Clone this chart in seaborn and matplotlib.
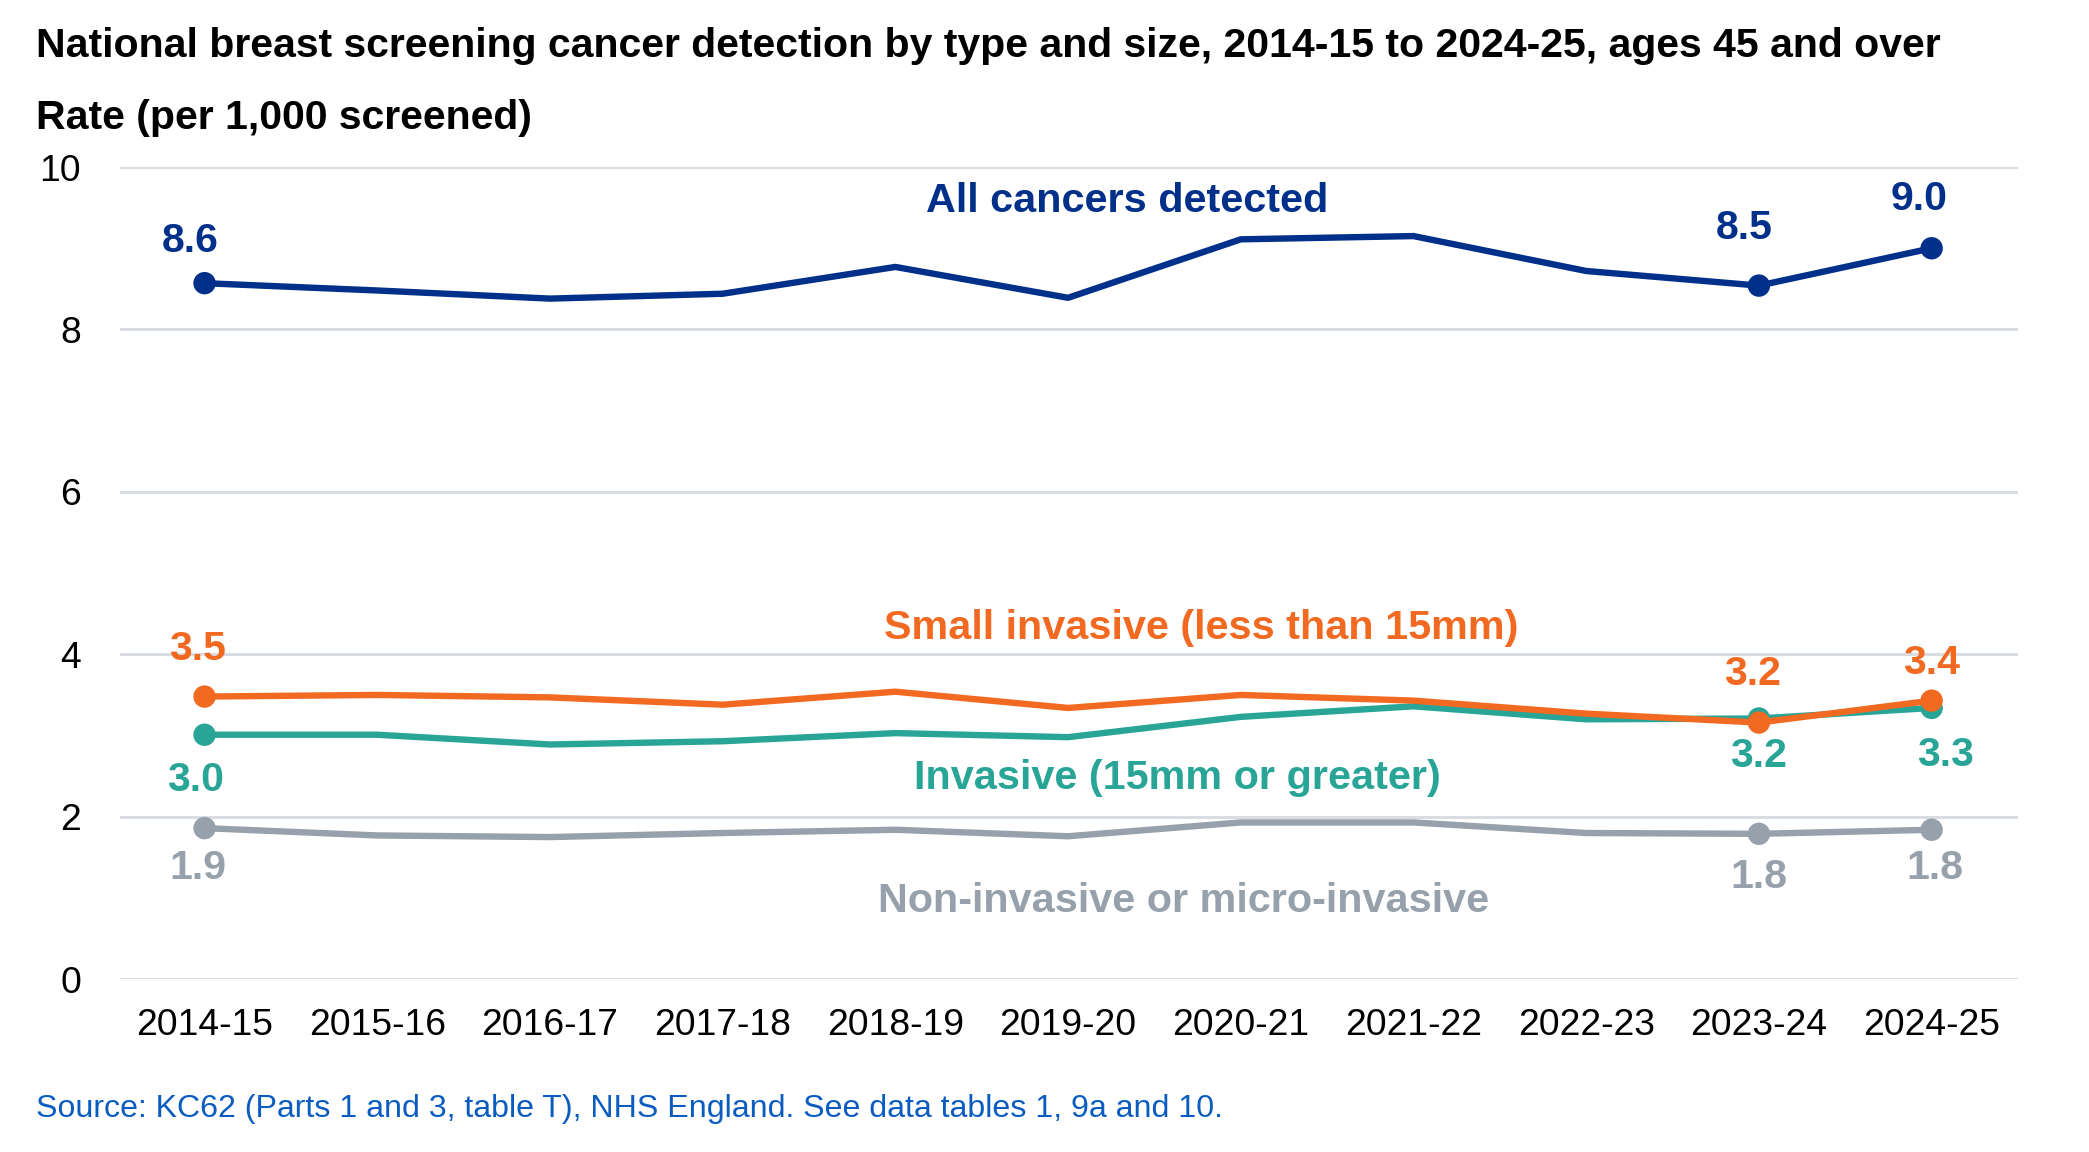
import matplotlib
matplotlib.use("Agg")
import matplotlib.pyplot as plt
import seaborn as sns
import pandas as pd
import numpy as np

years = ["2014-15", "2015-16", "2016-17", "2017-18", "2018-19", "2019-20",
         "2020-21", "2021-22", "2022-23", "2023-24", "2024-25"]
all_cancers = [8.57, 8.48, 8.38, 8.44, 8.77, 8.39, 9.11, 9.15, 8.72, 8.54, 9.00]
small_invasive = [3.48, 3.50, 3.47, 3.38, 3.54, 3.34, 3.50, 3.43, 3.27, 3.16, 3.43]
invasive = [3.01, 3.01, 2.89, 2.93, 3.03, 2.98, 3.23, 3.36, 3.20, 3.21, 3.34]
non_invasive = [1.86, 1.77, 1.75, 1.80, 1.84, 1.76, 1.93, 1.93, 1.80, 1.79, 1.84]

series_names = ["All cancers detected", "Small invasive (less than 15mm)",
                "Invasive (15mm or greater)", "Non-invasive or micro-invasive"]
series_values = [all_cancers, small_invasive, invasive, non_invasive]
colors = ["#00308a", "#f26a22", "#28a596", "#97a1ab"]
marked_years = ["2014-15", "2023-24", "2024-25"]

title = "National breast screening cancer detection by type and size, 2014-15 to 2024-25, ages 45 and over"
ylabel = "Rate (per 1,000 screened)"
source = "Source: KC62 (Parts 1 and 3, table T), NHS England. See data tables 1, 9a and 10."

rows = []
for name, vals in zip(series_names, series_values):
    for i, (yr, v) in enumerate(zip(years, vals)):
        rows.append({"idx": i, "year": yr, "series": name, "value": v})
df = pd.DataFrame(rows)

sns.set_theme(style="white")
plt.rcParams["font.family"] = ["Liberation Sans", "DejaVu Sans"]

fig = plt.figure(figsize=(20.89, 11.52), dpi=100)
ax = fig.add_axes([0.0574, 0.150, 0.9086, 0.705])

palette = dict(zip(series_names, colors))
# draw order: grey, teal, orange, navy (later on top)
draw_order = [3, 2, 1, 0]
for z, si in enumerate(draw_order):
    name = series_names[si]
    sub = df[df["series"] == name]
    sns.lineplot(data=sub, x="idx", y="value", color=colors[si],
                 linewidth=4.6, legend=False, ax=ax, zorder=3 + 2 * z)
    mk = sub[sub["year"].isin(marked_years)]
    sns.scatterplot(data=mk, x="idx", y="value", color=colors[si],
                    s=260, edgecolor="none", legend=False, ax=ax, zorder=4 + 2 * z)

ax.set_ylim(0, 10)
ax.set_xlim(-0.49, 10.5)
ax.set_yticks([0, 2, 4, 6, 8, 10])
ax.set_xticks(range(len(years)))
ax.set_xticklabels(years)
ax.tick_params(axis="x", labelsize=26.8, pad=21, length=0, colors="black")
ax.tick_params(axis="y", labelsize=26.8, pad=28, length=0, colors="black")
ax.grid(axis="y", color="#d9dde2", linewidth=2.2)
ax.grid(axis="x", visible=False)
for s in ax.spines.values():
    s.set_visible(False)
ax.set_xlabel("")
ax.set_ylabel("")

# series labels
label_pos = {
    "All cancers detected": (5.34, 9.58),
    "Small invasive (less than 15mm)": (5.77, 4.33),
    "Invasive (15mm or greater)": (5.63, 2.48),
    "Non-invasive or micro-invasive": (5.67, 0.96),
}
for name, c in zip(series_names, colors):
    x, y = label_pos[name]
    ax.text(x, y, name, color=c, fontsize=29.8, fontweight="bold",
            ha="center", va="center", zorder=20)

# value labels: (series index, year index, dx, dy) in pixels
value_labels = [
    (0, 0, -14, 42), (0, 9, -15, 58), (0, 10, -13, 49),
    (1, 0, -7, 48), (1, 9, -6, 49), (1, 10, 0, 38),
    (2, 0, -9, -45), (2, 9, 0, -38), (2, 10, 14, -47),
    (3, 0, -7, -40), (3, 9, 0, -43), (3, 10, 3, -38),
]
for si, yi, dx, dy in value_labels:
    v = series_values[si][yi]
    ax.annotate(f"{v:.1f}", xy=(yi, v), xytext=(dx, dy), textcoords="offset pixels",
                ha="center", va="center", fontsize=29.5, fontweight="bold",
                color=colors[si], zorder=20)

fig.text(0.0172, 0.9603, title, fontsize=29.5, fontweight="bold", ha="left", va="center", color="black")
fig.text(0.0172, 0.8977, ylabel, fontsize=29.5, fontweight="bold", ha="left", va="center", color="black")
fig.text(0.0172, 0.0377, source, fontsize=23.1, ha="left", va="center", color="#0b5cc0")

fig.savefig("out.png", dpi=100, facecolor="white")
